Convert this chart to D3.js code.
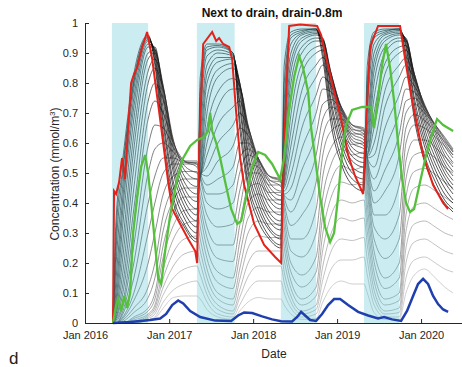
<!DOCTYPE html>
<html>
<head>
<meta charset="utf-8">
<script src="https://cdn.jsdelivr.net/npm/d3@7"></script>
<style>
  body { margin:0; background:#fff; }
  svg { display:block; font-family:"Liberation Sans", Arial, sans-serif; }
</style>
</head>
<body>
<svg width="462" height="367"></svg>
<script>
// irrigation seasons (decimal years)
var seasons = [[2016.32,2016.75],[2017.33,2017.78],[2018.33,2018.75],[2019.32,2019.74]];

// shared time grid for the grey depth lines
var gridYears = [2016.33,2016.37,2016.45,2016.58,2016.75,2016.83,2016.93,2017.05,2017.18,
  2017.33,2017.37,2017.45,2017.58,2017.76,2017.84,2017.94,2018.06,2018.19,
  2018.33,2018.37,2018.45,2018.58,2018.75,2018.83,2018.93,2019.05,2019.18,
  2019.32,2019.36,2019.44,2019.57,2019.74,2019.82,2019.92,2020.04,2020.17,2020.28,2020.38];

// grey lines, shallow (dark) to deep (light)
var greyLines = [
 [0,.35,.55,.83,.96,.86,.6,.4,.32, .27,.82,.93,.93,.9,.65,.45,.34,.28, .25,.86,.97,.98,.98,.88,.66,.53,.46, .44,.86,.97,.98,.98,.88,.68,.54,.45,.4,.37],
 [0,.3,.52,.81,.955,.875,.63,.42,.33, .28,.77,.92,.925,.9,.68,.47,.36,.29, .26,.8,.96,.975,.98,.9,.69,.55,.48, .46,.81,.96,.975,.98,.9,.7,.56,.47,.41,.38],
 [0,.25,.5,.8,.95,.89,.66,.45,.35, .3,.72,.91,.92,.9,.72,.5,.38,.31, .28,.74,.95,.97,.98,.92,.72,.58,.5, .48,.76,.95,.97,.98,.92,.73,.59,.49,.43,.4],
 [0,.2,.46,.78,.945,.9,.68,.47,.37, .32,.66,.89,.91,.895,.74,.52,.4,.32, .29,.68,.93,.965,.975,.93,.74,.6,.52, .5,.71,.93,.965,.975,.93,.75,.61,.51,.45,.41],
 [0,.15,.42,.75,.94,.91,.71,.5,.39, .34,.6,.86,.9,.89,.77,.55,.42,.34, .31,.62,.9,.96,.97,.94,.77,.62,.54, .52,.66,.9,.96,.97,.94,.78,.63,.53,.47,.43],
 [0,.11,.38,.72,.93,.915,.74,.52,.41, .36,.56,.83,.885,.885,.785,.57,.44,.355, .325,.58,.87,.95,.965,.945,.785,.64,.555, .535,.63,.87,.95,.965,.945,.795,.65,.55,.485,.445],
 [0,.08,.33,.68,.92,.92,.76,.54,.43, .38,.52,.8,.87,.88,.8,.6,.46,.37, .34,.54,.84,.94,.96,.95,.8,.66,.57, .55,.6,.84,.94,.96,.95,.81,.67,.57,.5,.46],
 [0,.06,.27,.63,.9,.91,.775,.56,.45, .405,.5,.75,.845,.865,.8,.62,.48,.39, .36,.52,.8,.92,.95,.945,.815,.675,.585, .565,.585,.8,.92,.95,.945,.82,.685,.585,.515,.475],
 [0,.04,.22,.58,.88,.9,.79,.58,.47, .43,.48,.7,.82,.85,.8,.64,.5,.41, .38,.5,.75,.9,.94,.94,.83,.69,.6, .58,.57,.75,.9,.94,.94,.83,.7,.6,.53,.49],
 [0,.03,.17,.52,.84,.88,.785,.595,.49, .455,.485,.65,.77,.815,.79,.65,.515,.425, .395,.485,.695,.865,.92,.925,.83,.7,.61, .59,.565,.7,.865,.92,.925,.83,.71,.615,.545,.505],
 [0,.02,.13,.45,.8,.85,.78,.61,.51, .48,.49,.6,.72,.78,.78,.66,.53,.44, .41,.47,.64,.83,.9,.91,.83,.71,.62, .6,.56,.65,.83,.9,.91,.83,.72,.63,.56,.52],
 [0,.015,.1,.38,.74,.8,.745,.605,.525, .5,.495,.56,.66,.72,.74,.655,.54,.455, .425,.46,.59,.775,.86,.885,.82,.715,.63, .61,.555,.6,.775,.86,.885,.82,.725,.64,.575,.535],
 [0,.01,.07,.32,.68,.74,.7,.6,.54, .52,.5,.52,.6,.66,.7,.65,.55,.47, .44,.45,.54,.72,.82,.86,.81,.72,.64, .62,.55,.56,.72,.82,.86,.81,.73,.65,.59,.55],
 [0,.005,.055,.26,.59,.66,.65,.585,.54, .53,.5,.49,.54,.59,.65,.625,.55,.48, .455,.44,.495,.65,.76,.82,.79,.72,.65, .63,.55,.52,.65,.76,.82,.79,.725,.655,.6,.56],
 [0,0,.04,.2,.5,.58,.6,.57,.54, .54,.5,.46,.48,.52,.6,.6,.55,.49, .47,.43,.45,.58,.7,.78,.77,.72,.66, .64,.55,.48,.58,.7,.78,.77,.72,.66,.61,.57],
 [0,0,.03,.15,.4,.49,.55,.55,.535, .535,.49,.43,.43,.46,.55,.58,.545,.49, .475,.425,.41,.51,.63,.73,.745,.71,.66, .645,.545,.44,.51,.63,.74,.75,.71,.66,.615,.575],
 [0,0,.02,.1,.3,.4,.5,.53,.53, .53,.48,.4,.38,.4,.5,.56,.54,.49, .48,.42,.37,.44,.56,.68,.72,.7,.66, .65,.54,.4,.44,.56,.7,.73,.7,.66,.62,.58],
 [0,0,.015,.075,.2,.3,.43,.49,.505, .505,.45,.36,.32,.33,.44,.53,.52,.475, .47,.4,.325,.36,.47,.62,.68,.68,.645, .64,.52,.36,.36,.46,.65,.695,.675,.64,.605,.57],
 [0,0,.01,.05,.12,.2,.36,.45,.48, .48,.42,.32,.26,.26,.38,.5,.5,.46, .46,.38,.28,.28,.38,.56,.64,.66,.63, .63,.5,.32,.28,.36,.6,.66,.65,.62,.59,.56],
 [0,0,.005,.035,.085,.15,.31,.41,.45, .45,.39,.285,.215,.205,.325,.45,.465,.435, .435,.35,.24,.22,.3,.49,.585,.62,.595, .6,.47,.28,.215,.28,.54,.61,.61,.585,.555,.53],
 [0,0,0,.02,.05,.1,.26,.37,.42, .42,.36,.25,.17,.15,.27,.4,.43,.41, .41,.32,.2,.16,.22,.42,.53,.58,.56, .57,.44,.24,.15,.2,.48,.56,.57,.55,.52,.5],
 [0,0,0,.015,.04,.08,.22,.325,.375, .38,.32,.215,.135,.115,.225,.35,.385,.37, .37,.285,.17,.12,.17,.36,.475,.525,.51, .52,.395,.205,.115,.15,.42,.505,.515,.495,.47,.45],
 [0,0,0,.01,.03,.06,.18,.28,.33, .34,.28,.18,.1,.08,.18,.3,.34,.33, .33,.25,.14,.08,.12,.3,.42,.47,.46, .47,.35,.17,.08,.1,.36,.45,.46,.44,.42,.4],
 [0,0,0,.005,.025,.05,.15,.235,.28, .29,.24,.15,.08,.06,.145,.25,.29,.285, .285,.21,.115,.06,.09,.245,.36,.41,.4, .41,.305,.14,.06,.075,.305,.39,.4,.38,.36,.345],
 [0,0,0,0,.02,.04,.12,.19,.23, .24,.2,.12,.06,.04,.11,.2,.24,.24, .24,.17,.09,.04,.06,.19,.3,.35,.34, .35,.26,.11,.04,.05,.25,.33,.34,.32,.3,.29],
 [0,0,0,0,.015,.03,.095,.15,.18, .19,.16,.095,.045,.03,.085,.155,.19,.19, .19,.135,.07,.03,.045,.145,.24,.28,.275, .285,.21,.085,.03,.035,.2,.27,.28,.26,.24,.23],
 [0,0,0,0,.01,.02,.07,.11,.13, .14,.12,.07,.03,.02,.06,.11,.14,.14, .14,.1,.05,.02,.03,.1,.18,.21,.21, .22,.16,.06,.02,.02,.15,.21,.22,.2,.18,.17],
 [0,0,0,0,.008,.015,.05,.085,.09, .09,.08,.045,.02,.012,.04,.07,.085,.08, .08,.06,.03,.012,.015,.07,.12,.14,.13, .13,.1,.035,.012,.012,.1,.16,.18,.15,.12,.1]
];

// red line [year, value]
var redLine = [[2016.333,0],[2016.345,0.44],[2016.369,0.43],[2016.405,0.47],[2016.44,0.55],[2016.476,0.48],[2016.512,0.65],[2016.548,0.8],[2016.583,0.83],[2016.619,0.85],[2016.679,0.92],[2016.738,0.97],[2016.798,0.88],[2016.869,0.73],[2016.929,0.6],[2016.988,0.47],[2017.036,0.38],[2017.131,0.33],[2017.226,0.28],[2017.31,0.24],[2017.333,0.2],[2017.357,0.58],[2017.405,0.93],[2017.512,0.97],[2017.56,0.94],[2017.595,0.95],[2017.643,0.93],[2017.714,0.92],[2017.75,0.88],[2017.798,0.7],[2017.845,0.55],[2017.893,0.46],[2018.012,0.33],[2018.131,0.26],[2018.262,0.22],[2018.333,0.2],[2018.369,0.6],[2018.429,0.99],[2018.56,0.995],[2018.762,0.99],[2018.81,0.96],[2018.857,0.9],[2018.94,0.8],[2019.048,0.68],[2019.131,0.56],[2019.214,0.49],[2019.31,0.43],[2019.333,0.6],[2019.393,0.92],[2019.488,0.99],[2019.75,0.99],[2019.81,0.88],[2019.881,0.76],[2019.952,0.66],[2020.024,0.56],[2020.143,0.46],[2020.262,0.4],[2020.321,0.38]];

// green line
var greenLine = [[2016.333,0],[2016.369,0.06],[2016.393,0.08],[2016.429,0.04],[2016.464,0.09],[2016.5,0.05],[2016.536,0.1],[2016.571,0.3],[2016.619,0.42],[2016.667,0.52],[2016.714,0.56],[2016.75,0.5],[2016.786,0.4],[2016.833,0.26],[2016.869,0.15],[2016.905,0.13],[2016.952,0.24],[2017.012,0.36],[2017.095,0.48],[2017.167,0.55],[2017.25,0.59],[2017.333,0.61],[2017.417,0.62],[2017.464,0.64],[2017.488,0.7],[2017.512,0.64],[2017.56,0.6],[2017.607,0.55],[2017.667,0.47],[2017.738,0.38],[2017.81,0.33],[2017.857,0.34],[2017.917,0.42],[2017.988,0.52],[2018.06,0.57],[2018.143,0.56],[2018.226,0.53],[2018.321,0.48],[2018.369,0.55],[2018.417,0.69],[2018.488,0.82],[2018.548,0.89],[2018.595,0.85],[2018.655,0.77],[2018.69,0.65],[2018.738,0.55],[2018.798,0.42],[2018.857,0.32],[2018.917,0.27],[2018.964,0.3],[2019.012,0.42],[2019.06,0.57],[2019.107,0.66],[2019.179,0.71],[2019.298,0.72],[2019.405,0.72],[2019.44,0.65],[2019.488,0.75],[2019.536,0.86],[2019.583,0.93],[2019.631,0.85],[2019.679,0.74],[2019.726,0.6],[2019.774,0.48],[2019.821,0.4],[2019.869,0.37],[2019.917,0.38],[2019.988,0.47],[2020.06,0.56],[2020.131,0.63],[2020.19,0.68],[2020.262,0.66],[2020.321,0.65],[2020.381,0.64]];

// blue line (deepest)
var blueLine = [[2016.333,0],[2016.536,0.003],[2016.774,0.01],[2016.893,0.015],[2016.964,0.03],[2017.036,0.06],[2017.107,0.075],[2017.167,0.065],[2017.25,0.04],[2017.369,0.02],[2017.548,0.008],[2017.738,0.007],[2017.821,0.025],[2017.893,0.035],[2017.988,0.033],[2018.107,0.022],[2018.226,0.012],[2018.333,0.006],[2018.464,0.005],[2018.524,0.02],[2018.571,0.037],[2018.619,0.025],[2018.679,0.01],[2018.75,0.007],[2018.821,0.03],[2018.893,0.06],[2018.964,0.08],[2019.036,0.08],[2019.131,0.06],[2019.25,0.037],[2019.369,0.025],[2019.488,0.015],[2019.56,0.02],[2019.655,0.012],[2019.762,0.007],[2019.833,0.04],[2019.905,0.09],[2019.964,0.13],[2020.024,0.147],[2020.083,0.13],[2020.143,0.09],[2020.202,0.063],[2020.262,0.045],[2020.321,0.037]];

var yTicks = [0,0.1,0.2,0.3,0.4,0.5,0.6,0.7,0.8,0.9,1];
var xTickYears = [2016,2017,2018,2019,2020];

var toDate = function(t)
{
  var y = Math.floor(t);
  var start = new Date(y,0,1), end = new Date(y+1,0,1);
  return new Date(start.getTime() + (t-y)*(end-start));
};

var svg = d3.select("svg");
var margins = {left:85, top:23, bottom:323, right:465};

var xScale = d3.scaleTime()
  .domain([new Date(2016,0,1), new Date(2020,6,10)])
  .range([margins.left, margins.right]);
var yScale = d3.scaleLinear()
  .domain([0,1])
  .range([margins.bottom, margins.top]);

var plot = svg.append("g").classed("plot",true);

var gridLine = d3.line()
  .x(function(d,i){return xScale(toDate(gridYears[i]));})
  .y(function(d){return yScale(d);})
  .curve(d3.curveMonotoneX);

var greyColor = d3.interpolateRgb("#080808","#bcbcbc");

// light ones first so the dark ones sit on top
plot.append("g").attr("class","grey")
  .selectAll("path")
  .data(greyLines.slice().reverse())
  .enter()
  .append("path")
  .attr("d",gridLine)
  .attr("fill","none")
  .attr("stroke",function(d,i){return greyColor(Math.pow(1 - i/(greyLines.length-1),1.6));})
  .attr("stroke-width",0.7);

// season patches over the grey lines
plot.append("g").attr("class","seasons")
  .selectAll("rect")
  .data(seasons)
  .enter()
  .append("rect")
  .attr("x",function(d){return xScale(toDate(d[0]));})
  .attr("width",function(d){return xScale(toDate(d[1])) - xScale(toDate(d[0]));})
  .attr("y",yScale(1))
  .attr("height",yScale(0)-yScale(1))
  .attr("fill","#5cc3cf")
  .attr("opacity",0.32);

var pairLine = d3.line()
  .x(function(d){return xScale(toDate(d[0]));})
  .y(function(d){return yScale(d[1]);});

plot.append("path").datum(redLine)
  .attr("d",pairLine).attr("fill","none")
  .attr("stroke","#e3221b").attr("stroke-width",2);

plot.append("path").datum(greenLine)
  .attr("d",pairLine).attr("fill","none")
  .attr("stroke","#55c03c").attr("stroke-width",2.3);

plot.append("path").datum(blueLine)
  .attr("d",pairLine).attr("fill","none")
  .attr("stroke","#1f3fae").attr("stroke-width",2.5);

// axes, matlab style: ticks inside
var axisColor = "#262626";
var xAxis = d3.axisBottom(xScale)
  .tickValues(xTickYears.map(function(y){return new Date(y,0,1);}))
  .tickFormat(d3.timeFormat("%b %Y"))
  .tickSizeInner(-4).tickSizeOuter(0).tickPadding(8);
var yAxis = d3.axisLeft(yScale)
  .tickValues(yTicks)
  .tickFormat(d3.format("~g"))
  .tickSizeInner(-4).tickSizeOuter(0).tickPadding(7);

var gx = svg.append("g").attr("transform","translate(0,"+margins.bottom+")").call(xAxis);
var gy = svg.append("g").attr("transform","translate("+margins.left+",0)").call(yAxis);
[gx,gy].forEach(function(g)
{
  g.selectAll("path,line").attr("stroke",axisColor);
  g.selectAll("text").attr("fill",axisColor).style("font-size","11px")
    .style("font-family","Liberation Sans, Arial, sans-serif");
});

svg.append("text")
  .attr("x",272).attr("y",17)
  .attr("text-anchor","middle")
  .style("font-size","12px").style("font-weight","bold")
  .attr("fill","#111")
  .text("Next to drain, drain-0.8m");

svg.append("text")
  .attr("x",274).attr("y",358)
  .attr("text-anchor","middle")
  .style("font-size","12px").attr("fill",axisColor)
  .text("Date");

var ylab = svg.append("text")
  .attr("transform","translate(59,174) rotate(-90)")
  .attr("text-anchor","middle")
  .style("font-size","12px").attr("fill",axisColor);
ylab.append("tspan").text("Concentration (mmol/m");
ylab.append("tspan").attr("baseline-shift","super").style("font-size","8px").text("3");
ylab.append("tspan").text(")");

svg.append("text")
  .attr("x",9).attr("y",364)
  .style("font-size","17px").attr("fill","#222")
  .text("d");
</script>
</body>
</html>
